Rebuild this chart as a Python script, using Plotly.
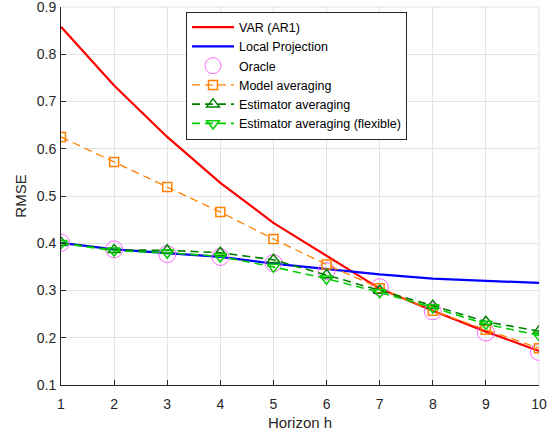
import plotly.graph_objects as go

# Forecast horizons
horizon = [1, 2, 3, 4, 5, 6, 7, 8, 9, 10]

# RMSE by method
rmse_var = [0.858, 0.734, 0.625, 0.528, 0.443, 0.373, 0.304, 0.257, 0.213, 0.172]
rmse_lp = [0.401, 0.387, 0.379, 0.371, 0.357, 0.346, 0.334, 0.325, 0.321, 0.316]
rmse_oracle = [0.401, 0.387, 0.377, 0.371, 0.358, 0.341, 0.307, 0.256, 0.211, 0.170]
rmse_model_avg = [0.625, 0.572, 0.519, 0.466, 0.409, 0.355, 0.305, 0.257, 0.217, 0.178]
rmse_est_avg = [0.401, 0.386, 0.385, 0.380, 0.365, 0.333, 0.300, 0.268, 0.234, 0.214]
rmse_est_flex = [0.400, 0.384, 0.380, 0.372, 0.350, 0.325, 0.296, 0.264, 0.229, 0.205]

y_ticks = [0.1, 0.2, 0.3, 0.4, 0.5, 0.6, 0.7, 0.8, 0.9]

FONT = "Liberation Sans, Arial, Helvetica, sans-serif"
AXIS_COLOR = "#262626"
GRID_COLOR = "#e3e3e3"

fig = go.Figure()

fig.add_trace(go.Scatter(
    x=horizon, y=rmse_var, name="VAR (AR1)", mode="lines",
    line=dict(color="#ff0000", width=2.2),
))
fig.add_trace(go.Scatter(
    x=horizon, y=rmse_lp, name="Local Projection", mode="lines",
    line=dict(color="#0000ff", width=2.2),
))
fig.add_trace(go.Scatter(
    x=horizon, y=rmse_oracle, name="Oracle", mode="markers",
    marker=dict(symbol="circle-open", size=17, color="#ff66ff",
                line=dict(width=1, color="#ff66ff")),
))
fig.add_trace(go.Scatter(
    x=horizon, y=rmse_model_avg, name="Model averaging", mode="lines+markers",
    line=dict(color="#ff8000", width=1.3, dash="8px,5px"),
    marker=dict(symbol="square-open", size=9, color="#ff8000",
                line=dict(width=1.5, color="#ff8000")),
))
fig.add_trace(go.Scatter(
    x=horizon, y=rmse_est_avg, name="Estimator averaging", mode="lines+markers",
    line=dict(color="#008000", width=1.6, dash="8px,5px"),
    marker=dict(symbol="triangle-up-open", size=11, color="#008000",
                line=dict(width=1.5, color="#008000")),
))
fig.add_trace(go.Scatter(
    x=horizon, y=rmse_est_flex, name="Estimator averaging (flexible)", mode="lines+markers",
    line=dict(color="#00cc00", width=1.6, dash="8px,5px"),
    marker=dict(symbol="triangle-down-open", size=11, color="#00cc00",
                line=dict(width=1.5, color="#00cc00")),
))

axis_common = dict(
    showline=True, linecolor=AXIS_COLOR, linewidth=1,
    showgrid=True, gridcolor=GRID_COLOR, gridwidth=1,
    zeroline=False, ticks="inside", ticklen=5, tickcolor=AXIS_COLOR,
    tickfont=dict(family=FONT, size=14, color=AXIS_COLOR),
    ticklabeloverflow="allow", automargin=False,
    mirror=False,
)

fig.update_layout(
    width=554, height=435,
    margin=dict(l=61, r=15, t=7, b=50, autoexpand=False),
    paper_bgcolor="white", plot_bgcolor="white",
    font=dict(family=FONT, color=AXIS_COLOR),
    xaxis=dict(
        range=[1, 10.0001], tickvals=horizon,
        ticklabelstandoff=6,
        title=dict(text="Horizon h", font=dict(family=FONT, size=15, color=AXIS_COLOR), standoff=6),
        **axis_common,
    ),
    yaxis=dict(
        range=[0.1, 0.90001], tickvals=y_ticks, tickformat=".1f",
        ticklabelstandoff=1,
        title=dict(text="RMSE", font=dict(family=FONT, size=15, color=AXIS_COLOR), standoff=6),
        **axis_common,
    ),
    legend=dict(
        x=0.2615, y=0.988, xanchor="left", yanchor="top",
        bgcolor="white", bordercolor="#262626", borderwidth=1,
        font=dict(family=FONT, size=12.5, color="black"),
        tracegroupgap=0, itemwidth=42,
    ),
    showlegend=True,
)

# Light frame along the top and right edges of the plotting area, like the grid
fig.add_shape(type="line", xref="paper", yref="paper", x0=0, x1=1, y0=1, y1=1,
              line=dict(color=GRID_COLOR, width=1), layer="below")
fig.add_shape(type="line", xref="paper", yref="paper", x0=1, x1=1, y0=0, y1=1,
              line=dict(color=GRID_COLOR, width=1), layer="below")

fig.write_html("out.html")
